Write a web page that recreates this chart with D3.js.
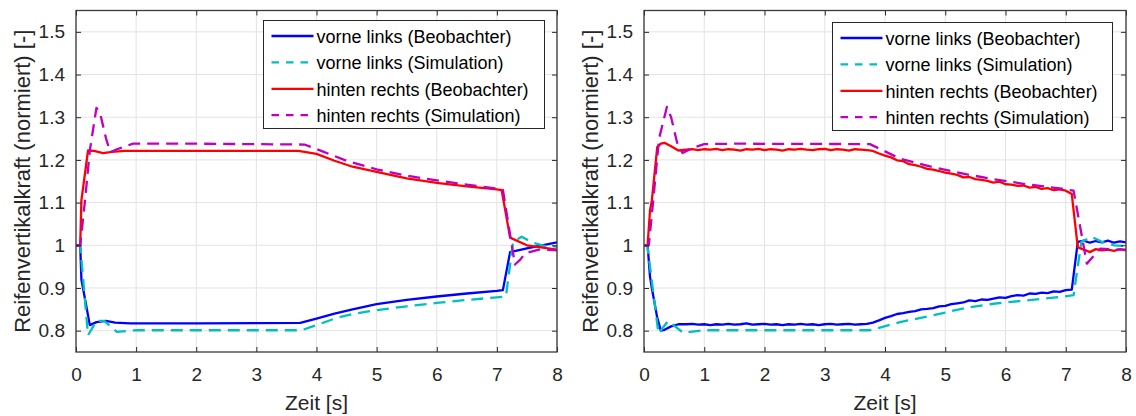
<!DOCTYPE html>
<html>
<head>
<meta charset="utf-8">
<script src="https://cdn.jsdelivr.net/npm/d3@7"></script>
<style>
    body { margin: 0; background: #ffffff; }
    svg { display: block; }
</style>
</head>
<body>
<script>
// tick values / labels (shared by both panels)
var xTicks = [0, 1, 2, 3, 4, 5, 6, 7, 8]
var yTicks = [0.8, 0.9, 1.0, 1.1, 1.2, 1.3, 1.4, 1.5]
var yTickLabels = ["0.8", "0.9", "1", "1.1", "1.2", "1.3", "1.4", "1.5"]

var legendLabels = ["vorne links (Beobachter)", "vorne links (Simulation)",
    "hinten rechts (Beobachter)", "hinten rechts (Simulation)"]
var xLabel = "Zeit [s]"
var yLabel = "Reifenvertikalkraft (normiert) [-]"

// ---- left panel ----
var leftVlObsTime = [0, 0.07, 0.09, 0.23, 0.34, 0.5, 0.65, 0.9, 2.0, 3.73, 4.0, 4.3, 4.6, 5.0, 5.5, 6.0, 6.5, 7.0, 7.1, 7.22, 7.5, 8.0]
var leftVlObs = [1.0, 1.0, 0.92, 0.813, 0.82, 0.823, 0.819, 0.817, 0.817, 0.818, 0.828, 0.84, 0.85, 0.862, 0.872, 0.88, 0.887, 0.893, 0.895, 0.984, 0.993, 1.007]

var leftVlSimTime = [0, 0.07, 0.15, 0.2, 0.34, 0.47, 0.68, 1.0, 3.75, 4.0, 4.34, 4.6, 5.0, 5.5, 6.0, 6.5, 7.0, 7.15, 7.27, 7.41, 7.6, 7.8, 8.0]
var leftVlSim = [1.0, 1.0, 0.87, 0.789, 0.823, 0.823, 0.797, 0.801, 0.801, 0.813, 0.83, 0.839, 0.848, 0.857, 0.865, 0.872, 0.878, 0.88, 1.008, 1.02, 1.006, 0.998, 0.997]

var leftHrObsTime = [0, 0.07, 0.09, 0.2, 0.3, 0.45, 0.6, 0.8, 2.0, 3.7, 4.0, 4.3, 4.6, 5.0, 5.5, 6.0, 6.5, 7.0, 7.08, 7.22, 7.5, 8.0]
var leftHrObs = [1.0, 1.0, 1.105, 1.222, 1.221, 1.216, 1.219, 1.221, 1.221, 1.221, 1.214, 1.198, 1.184, 1.172, 1.157, 1.146, 1.138, 1.131, 1.129, 1.018, 1.0, 0.99]

var leftHrSimTime = [0, 0.07, 0.15, 0.23, 0.34, 0.4, 0.5, 0.57, 0.68, 0.95, 2.0, 3.8, 4.1, 4.5, 5.0, 5.5, 6.0, 6.5, 7.0, 7.1, 7.3, 7.38, 7.47, 7.7, 8.0]
var leftHrSim = [1.0, 1.0, 1.105, 1.222, 1.322, 1.31, 1.25, 1.218, 1.225, 1.238, 1.238, 1.236, 1.22, 1.198, 1.178, 1.163, 1.152, 1.142, 1.133, 1.13, 0.955, 0.965, 0.981, 0.99, 0.988]

// ---- right panel ----
var rightObsTime = [0, 0.06, 0.1, 0.13, 0.22, 0.28, 0.34, 0.45, 0.57, 0.7,
    0.8, 0.9, 1.0, 1.1, 1.2, 1.3, 1.4, 1.5, 1.6, 1.7, 1.8, 1.9, 2.0, 2.1, 2.2, 2.3, 2.4, 2.5, 2.6, 2.7,
    2.8, 2.9, 3.0, 3.1, 3.2, 3.3, 3.4, 3.5, 3.6,
    3.7, 3.8, 3.9, 4.0, 4.1, 4.2, 4.3, 4.4, 4.5, 4.6, 4.7, 4.8, 4.9, 5.0, 5.1, 5.2, 5.3, 5.4, 5.5, 5.6,
    5.7, 5.8, 5.9, 6.0, 6.1, 6.2, 6.3, 6.4, 6.5, 6.6, 6.7, 6.8, 6.9, 7.0,
    7.1, 7.2, 7.3, 7.4, 7.5, 7.6, 7.7, 7.8, 7.9, 8.0]

var rightVlObs = [1.0, 1.0, 0.926, 0.9, 0.83, 0.80, 0.802, 0.81, 0.815, 0.815,
    0.816, 0.814, 0.815, 0.813, 0.815, 0.814, 0.816, 0.814, 0.815, 0.817, 0.814, 0.815, 0.816, 0.814, 0.815, 0.813, 0.815, 0.814, 0.816, 0.814,
    0.815, 0.813, 0.815, 0.816, 0.814, 0.815, 0.816, 0.814, 0.815,
    0.816, 0.819, 0.824, 0.83, 0.834, 0.839, 0.841, 0.844, 0.846, 0.85, 0.851, 0.853, 0.857, 0.858, 0.862, 0.864, 0.866, 0.871, 0.869, 0.873,
    0.872, 0.875, 0.878, 0.877, 0.881, 0.883, 0.882, 0.887, 0.886, 0.889, 0.888, 0.892, 0.891, 0.895,
    0.896, 1.008, 1.011, 1.006, 1.01, 1.007, 1.011, 1.006, 1.009, 1.007]

var rightHrObs = [1.0, 1.0, 1.082, 1.105, 1.23, 1.238, 1.24, 1.232, 1.222, 1.224,
    1.225, 1.223, 1.225, 1.224, 1.226, 1.223, 1.225, 1.224, 1.222, 1.225, 1.224, 1.226, 1.223, 1.225, 1.224, 1.222, 1.225, 1.224, 1.226, 1.224,
    1.223, 1.225, 1.226, 1.223, 1.225, 1.224, 1.222, 1.225, 1.224,
    1.223, 1.221, 1.215, 1.21, 1.206, 1.199, 1.197, 1.19, 1.188, 1.184, 1.179, 1.177, 1.174, 1.17, 1.168, 1.165, 1.159, 1.16, 1.155, 1.153,
    1.151, 1.147, 1.149, 1.143, 1.142, 1.139, 1.14, 1.135, 1.137, 1.132, 1.134, 1.129, 1.131, 1.128,
    1.12, 0.995, 0.99, 0.984, 0.991, 0.988, 0.99, 0.987, 0.991, 0.988]

var rightVlSimTime = [0, 0.055, 0.24, 0.4, 0.65, 1.0, 3.75, 4.25, 4.8, 5.36, 5.8, 6.35, 6.9, 7.13, 7.26, 7.43, 7.6, 7.8, 8.0]
var rightVlSim = [1.0, 1.0, 0.793, 0.823, 0.795, 0.801, 0.801, 0.82, 0.836, 0.854, 0.863, 0.871, 0.879, 0.883, 1.008, 1.02, 1.008, 1.0, 0.998]

var rightHrSimTime = [0, 0.08, 0.15, 0.25, 0.38, 0.45, 0.55, 0.64, 0.8, 1.0, 1.5, 3.75, 4.25, 4.8, 5.36, 5.8, 6.35, 6.9, 7.13, 7.35, 7.57, 7.8, 8.0]
var rightHrSim = [1.0, 1.0, 1.1, 1.25, 1.324, 1.3, 1.24, 1.216, 1.228, 1.237, 1.238, 1.237, 1.203, 1.183, 1.166, 1.155, 1.143, 1.133, 1.128, 0.957, 0.992, 0.99, 0.99]

document.addEventListener('DOMContentLoaded', function () {
    const width = 1136
    const height = 416
    const fontFamily = "'Liberation Sans', Arial, Helvetica, sans-serif"
    const textColor = "#262626"

    // line styles: blue solid, cyan dashed, red solid, magenta dashed
    const styles = [
        { color: "#0000ff", dash: null },
        { color: "#00bfbf", dash: "12,7" },
        { color: "#ff0000", dash: null },
        { color: "#bf00bf", dash: "12,7" }
    ]

    var svg = d3.select("body")
        .append("svg")
        .attr("width", width)
        .attr("height", height)

    function drawPanel(id, p, series) {
        var xScale = d3.scaleLinear().domain([0, 8]).range([p.left, p.right])
        var yScale = d3.scaleLinear().domain([0.75, 1.55]).range([p.bottom, p.top])

        var g = svg.append("g").attr("id", id)

        //grid
        g.selectAll(".gx")
            .data(xTicks)
            .enter()
            .append("line")
            .attr("x1", d => xScale(d)).attr("x2", d => xScale(d))
            .attr("y1", p.top).attr("y2", p.bottom)
            .attr("stroke", "#e3e3e3").attr("stroke-width", 1)

        g.selectAll(".gy")
            .data(yTicks)
            .enter()
            .append("line")
            .attr("x1", p.left).attr("x2", p.right)
            .attr("y1", d => yScale(d)).attr("y2", d => yScale(d))
            .attr("stroke", "#e3e3e3").attr("stroke-width", 1)

        //clip the curves to the axes
        svg.append("clipPath")
            .attr("id", id + "-clip")
            .append("rect")
            .attr("x", p.left).attr("y", p.top)
            .attr("width", p.right - p.left).attr("height", p.bottom - p.top)

        var line = d3.line()
            .x(d => xScale(d[0]))
            .y(d => yScale(d[1]))

        series.forEach(function (s, i) {
            var pts = s.time.map((t, k) => [t, s.values[k]])
            g.append("path")
                .attr("clip-path", "url(#" + id + "-clip)")
                .attr("d", line(pts))
                .attr("fill", "none")
                .attr("stroke", styles[i].color)
                .attr("stroke-width", 2.3)
                .attr("stroke-linejoin", "round")
                .attr("stroke-dasharray", styles[i].dash)
        })

        //axes, ticks pointing inward
        var xAxis = d3.axisBottom(xScale).tickValues(xTicks).tickSize(-5).tickSizeOuter(0).tickPadding(16)
        var xAxisTop = d3.axisTop(xScale).tickValues(xTicks).tickSize(-5).tickSizeOuter(0).tickFormat("")
        var yAxis = d3.axisLeft(yScale).tickValues(yTicks).tickSize(-5).tickSizeOuter(0).tickPadding(11)
            .tickFormat((d, i) => yTickLabels[i])
        var yAxisRight = d3.axisRight(yScale).tickValues(yTicks).tickSize(-5).tickSizeOuter(0).tickFormat("")

        var axes = [
            g.append("g").attr("transform", "translate(0," + p.bottom + ")").call(xAxis),
            g.append("g").attr("transform", "translate(0," + p.top + ")").call(xAxisTop),
            g.append("g").attr("transform", "translate(" + p.left + ",0)").call(yAxis),
            g.append("g").attr("transform", "translate(" + p.right + ",0)").call(yAxisRight)
        ]
        axes.forEach(function (a) {
            a.attr("font-family", fontFamily).attr("font-size", 19)
            a.selectAll("line").attr("stroke", textColor)
            a.selectAll("path").attr("stroke", "none")
            a.selectAll("text").attr("fill", textColor)
        })

        //box
        g.append("rect")
            .attr("x", p.left).attr("y", p.top)
            .attr("width", p.right - p.left).attr("height", p.bottom - p.top)
            .attr("fill", "none")
            .attr("stroke", "#3a3a3a")
            .attr("stroke-width", 1.3)

        //axis labels
        g.append("text")
            .attr("text-anchor", "middle")
            .attr("x", (p.left + p.right) / 2)
            .attr("y", 410)
            .attr("font-family", fontFamily)
            .attr("font-size", 21)
            .attr("fill", textColor)
            .text(xLabel)

        g.append("text")
            .attr("text-anchor", "middle")
            .attr("transform", "translate(" + p.yLabelX + "," + ((p.top + p.bottom) / 2) + ") rotate(-90)")
            .attr("font-family", fontFamily)
            .attr("font-size", 22)
            .attr("fill", textColor)
            .text(yLabel)

        //legend
        var lg = g.append("g").attr("transform", "translate(" + p.legendX + "," + p.legendY + ")")
        lg.append("rect")
            .attr("width", p.legendW).attr("height", 108)
            .attr("fill", "#ffffff")
            .attr("stroke", textColor)
            .attr("stroke-width", 1)

        legendLabels.forEach(function (label, i) {
            var ly = 15.5 + i * 26.4
            lg.append("line")
                .attr("x1", 8).attr("x2", 50)
                .attr("y1", ly).attr("y2", ly)
                .attr("stroke", styles[i].color)
                .attr("stroke-width", 2.3)
                .attr("stroke-dasharray", styles[i].dash ? "7.5,7" : null)
            lg.append("text")
                .attr("x", 53)
                .attr("y", ly + 7)
                .attr("font-family", fontFamily)
                .attr("font-size", 18)
                .attr("fill", "#000000")
                .text(label)
        })
    }

    drawPanel("left", {
        left: 76, right: 557, top: 10.5, bottom: 352,
        yLabelX: 30, legendX: 263.5, legendY: 20.5, legendW: 281
    }, [
        { time: leftVlObsTime, values: leftVlObs },
        { time: leftVlSimTime, values: leftVlSim },
        { time: leftHrObsTime, values: leftHrObs },
        { time: leftHrSimTime, values: leftHrSim }
    ])

    drawPanel("right", {
        left: 644, right: 1126, top: 10.5, bottom: 352,
        yLabelX: 598, legendX: 832.5, legendY: 22.5, legendW: 280
    }, [
        { time: rightObsTime, values: rightVlObs },
        { time: rightVlSimTime, values: rightVlSim },
        { time: rightObsTime, values: rightHrObs },
        { time: rightHrSimTime, values: rightHrSim }
    ])
});
</script>
</body>
</html>
